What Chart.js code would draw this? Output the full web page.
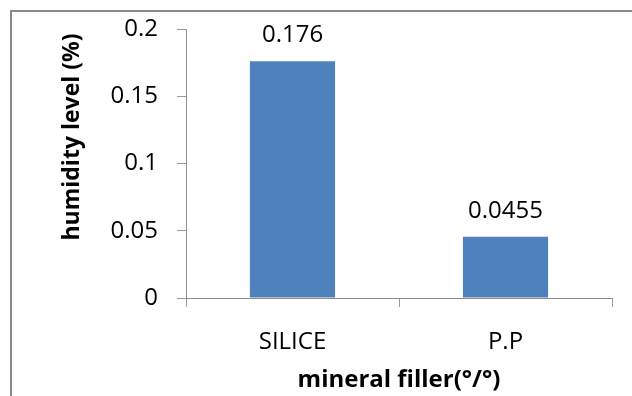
<!DOCTYPE html>
<html>
<head>
<meta charset="utf-8">
<script src="https://cdn.jsdelivr.net/npm/chart.js"></script>
<style>
  html, body { margin: 0; padding: 0; background: #fff; overflow: hidden; }
  #frame { position: absolute; left: 10px; top: 10px; width: 640px; height: 400px;
           border-left: 2px solid #8a8a8a; border-top: 2px solid #8a8a8a; }
  #wrap { position: absolute; left: 0; top: 0; width: 632px; height: 396px; }
</style>
</head>
<body>
<div id="frame"></div>
<div id="wrap"><canvas id="chart" width="632" height="396"></canvas></div>
<script>
// data
const categories = ["SILICE", "P.P"];
const humidity = [0.176, 0.0455];
const valueLabels = ["0.176", "0.0455"];
const yTicks = [0, 0.05, 0.1, 0.15, 0.2];
const xTitle = "mineral filler(°/°)";
const yTitle = "humidity level (%)";

const FONT = "'Open Sans', 'DejaVu Sans', sans-serif";

// values above the bars
const valueLabelPlugin = {
  id: "valueLabels",
  afterDatasetsDraw(chart) {
    const ctx = chart.ctx;
    const meta = chart.getDatasetMeta(0);
    ctx.save();
    ctx.font = "24px " + FONT;
    ctx.fillStyle = "#000";
    ctx.textAlign = "center";
    ctx.textBaseline = "middle";
    meta.data.forEach((bar, i) => {
      ctx.fillText(valueLabels[i], bar.x, bar.y - 26);
    });
    ctx.restore();
  }
};

// y title sits higher than the axis middle in the original
const yTitlePlugin = {
  id: "yTitle",
  afterDraw(chart) {
    const ctx = chart.ctx;
    ctx.save();
    ctx.translate(72, 137);
    ctx.rotate(-Math.PI / 2);
    ctx.font = "bold 23px " + FONT;
    ctx.fillStyle = "#000";
    ctx.textAlign = "center";
    ctx.textBaseline = "middle";
    ctx.fillText(yTitle, 0, 0);
    ctx.restore();
  }
};

new Chart(document.getElementById("chart"), {
  type: "bar",
  data: {
    labels: categories,
    datasets: [{
      data: humidity,
      backgroundColor: "#4f81bd",
      borderWidth: 0,
      barPercentage: 0.4,
      categoryPercentage: 1
    }]
  },
  options: {
    responsive: false,
    animation: false,
    layout: { padding: { top: 29, right: 20, left: 0, bottom: 0 } },
    plugins: { legend: { display: false }, tooltip: { enabled: false } },
    scales: {
      x: {
        grid: { offset: true, drawOnChartArea: false, drawTicks: true, tickLength: 9, color: "#9a9a9a" },
        border: { color: "#8c8c8c", width: 1 },
        ticks: { font: { family: FONT, size: 24 }, color: "#000", padding: 21 },
        title: {
          display: true,
          text: xTitle,
          font: { family: FONT, size: 24, weight: "bold" },
          color: "#000",
          padding: { top: 0, bottom: 1 }
        },
        afterFit(scale) { scale.height = 98; }
      },
      y: {
        min: 0,
        max: 0.2,
        afterBuildTicks(scale) { scale.ticks = yTicks.map(v => ({ value: v })); },
        grid: { drawOnChartArea: false, drawTicks: true, tickLength: 9, color: "#9a9a9a" },
        border: { color: "#8c8c8c", width: 1 },
        ticks: {
          font: { family: FONT, size: 24 },
          color: "#000",
          padding: 19,
          callback: v => String(+v.toFixed(2))
        },
        afterFit(scale) {
          scale.width = 186;
          scale.paddingTop = 0;
          scale.paddingBottom = 0;
        }
      }
    }
  },
  plugins: [valueLabelPlugin, yTitlePlugin]
});
</script>
</body>
</html>
